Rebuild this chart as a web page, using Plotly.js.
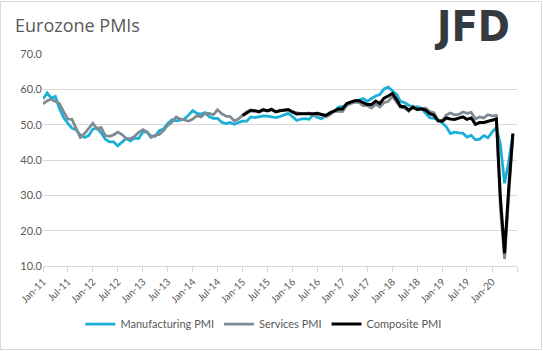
<!DOCTYPE html>
<html>
<head>
<meta charset="utf-8">
<script src="https://cdn.plot.ly/plotly-3.0.1.min.js"></script>
<style>
  html, body { margin: 0; padding: 0; background: #ffffff; }
  #chart { width: 543px; height: 351px; position: relative; }
  #frame { position: absolute; left: 0; top: 1px; width: 540px; height: 347px; border: 1px solid #D9D9D9; pointer-events: none; }
</style>
</head>
<body>
<div style="position:relative;width:543px;height:351px;">
  <div id="chart"></div>
  <div id="frame"></div>
</div>
<script>
// Monthly data, Jan-2011 .. Jun-2020
const startYear = 2011;
const startMonth = 1;
const tickLabels = ["Jan-11","Jul-11","Jan-12","Jul-12","Jan-13","Jul-13","Jan-14","Jul-14",
  "Jan-15","Jul-15","Jan-16","Jul-16","Jan-17","Jul-17","Jan-18","Jul-18","Jan-19","Jul-19","Jan-20",""];

const manufacturingPMI = [
  57.3,59.0,57.5,58.0,54.6,52.0,50.4,49.0,48.5,47.1,46.4,46.9,
  48.8,49.0,47.7,45.9,45.1,45.1,44.0,45.1,46.1,45.4,46.2,46.1,
  47.9,47.9,46.8,46.7,48.3,48.8,50.3,51.4,51.1,51.3,51.6,52.7,
  54.0,53.2,53.0,53.4,52.2,51.8,51.8,50.7,50.3,50.6,50.1,50.6,
  51.0,51.0,52.2,52.0,52.2,52.5,52.4,52.3,52.0,52.3,52.8,53.2,
  52.3,51.2,51.6,51.7,51.5,52.8,52.0,51.7,52.6,53.5,53.7,54.9,
  55.2,55.4,56.2,56.7,57.0,57.4,56.6,57.4,58.1,58.5,60.1,60.6,
  59.6,58.6,56.6,56.2,55.5,54.9,55.1,54.6,53.2,52.0,51.8,51.4,
  50.5,49.3,47.5,47.9,47.7,47.6,46.5,47.0,45.7,45.9,46.9,46.3,
  47.9,49.2,44.5,33.4,39.4,47.4
];

const servicesPMI = [
  55.9,56.8,57.2,56.7,56.0,53.7,51.6,51.5,48.8,46.4,47.5,48.8,
  50.4,48.8,49.2,46.9,46.7,47.1,47.9,47.2,46.1,46.0,46.7,47.8,
  48.6,47.9,46.4,47.0,47.2,48.3,49.8,50.7,52.2,51.6,51.2,51.0,
  51.6,52.6,52.2,53.1,53.2,52.8,54.2,53.1,52.4,52.3,51.1,51.6,
  52.7,53.7,54.2,54.1,53.8,54.4,54.0,54.4,53.7,54.1,54.2,54.2,
  53.6,53.3,53.1,53.1,53.3,52.8,52.9,52.8,52.2,52.8,53.8,53.7,
  53.7,55.5,56.0,56.4,56.3,55.4,55.4,54.7,55.8,55.0,56.2,56.6,
  58.0,56.2,54.9,54.7,53.8,55.2,54.2,54.4,54.7,53.7,53.4,51.2,
  51.2,52.8,53.3,52.8,52.9,53.6,53.2,53.5,51.6,52.2,51.9,52.8,
  52.5,52.6,26.4,12.0,30.5,47.3
];

// Composite series starts in Jan-2015
const compositeStartYear = 2015;
const compositePMI = [
  52.6,53.3,54.0,53.9,53.6,54.2,53.9,54.3,53.6,53.9,54.2,54.3,
  53.6,53.0,53.1,53.0,53.1,53.1,53.2,52.9,52.6,53.3,53.9,54.4,
  54.4,56.0,56.4,56.8,56.8,56.3,55.7,55.7,56.7,56.0,57.5,58.1,
  58.8,57.1,55.2,55.1,54.1,54.9,54.3,54.5,54.1,53.1,52.7,51.1,
  51.0,51.9,51.6,51.5,51.8,52.2,51.5,51.9,50.1,50.6,50.6,50.9,
  51.3,51.6,29.7,13.6,31.9,47.5
];

function monthDates(y0, m0, n) {
  const out = [];
  for (let i = 0; i < n; i++) {
    const t = (m0 - 1) + i;
    const y = y0 + Math.floor(t / 12);
    const m = (t % 12) + 1;
    out.push(y + "-" + String(m).padStart(2, "0") + "-01");
  }
  return out;
}

const dates = monthDates(startYear, startMonth, manufacturingPMI.length);
const compDates = monthDates(compositeStartYear, 1, compositePMI.length);
const tickDates = monthDates(startYear, startMonth, 6 * (tickLabels.length - 1) + 1).filter((d, i) => i % 6 === 0);

const font = "Lato, 'Open Sans', sans-serif";
const txt = "#595959";

const traces = [
  { x: dates, y: manufacturingPMI, name: "Manufacturing PMI", type: "scatter", mode: "lines",
    line: { color: "#1AAFD8", width: 2.75 } },
  { x: dates, y: servicesPMI, name: "Services PMI", type: "scatter", mode: "lines",
    line: { color: "#7F8A92", width: 2.75 } },
  { x: compDates, y: compositePMI, name: "Composite PMI", type: "scatter", mode: "lines",
    line: { color: "#000000", width: 3 } }
];

const layout = {
  width: 543, height: 351,
  margin: { l: 43, r: 26, t: 54, b: 82 },
  paper_bgcolor: "#ffffff", plot_bgcolor: "#ffffff",
  font: { family: font, color: txt },
  showlegend: true,
  title: { text: "Eurozone PMIs", x: 15 / 543, xanchor: "left", xref: "container",
           y: 1 - 26 / 351, yanchor: "middle", yref: "container",
           font: { family: "'Open Sans', sans-serif", size: 18, color: txt } },
  xaxis: {
    type: "date", range: ["2011-01-01", "2020-07-01"],
    tickmode: "array", tickvals: tickDates, ticktext: tickLabels,
    tickangle: -45, ticks: "outside", ticklen: 5, tickcolor: "#D9D9D9", tickwidth: 1,
    showline: true, linecolor: "#D9D9D9", linewidth: 1, showgrid: false, zeroline: false,
    tickfont: { family: font, size: 10, color: txt }
  },
  yaxis: {
    range: [10, 70], dtick: 10, tick0: 10, tickformat: ".1f",
    showgrid: true, gridcolor: "#D9D9D9", gridwidth: 1, zeroline: false, showline: false,
    ticks: "", tickfont: { family: font, size: 11, color: txt }
  },
  legend: {
    orientation: "h", x: 0.465, xanchor: "center", y: -0.274, yanchor: "middle",
    font: { family: font, size: 11, color: txt }, itemwidth: 30, bgcolor: "rgba(0,0,0,0)"
  },
  annotations: [{
    text: "<b>JFD</b>", xref: "paper", yref: "paper",
    x: (512 - 43) / 474, xanchor: "right", y: (269 + 2) / 215, yanchor: "top",
    showarrow: false,
    font: { family: "'DejaVu Sans Condensed', 'DejaVu Sans', sans-serif", size: 43, color: "#353A40" }
  }]
};

Plotly.newPlot("chart", traces, layout, { displayModeBar: false, staticPlot: true });
</script>
</body>
</html>
